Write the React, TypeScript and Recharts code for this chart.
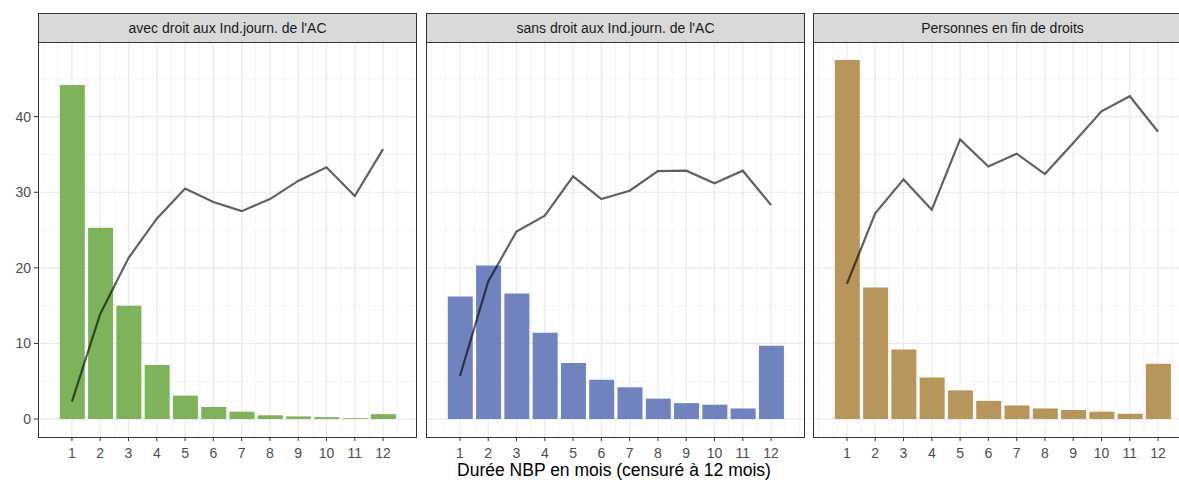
import React from 'react';
import {Bar, ComposedChart, Line, ReferenceLine, XAxis, YAxis} from 'recharts';

// months of unemployment spell (censored at 12)
const months = [1, 2, 3, 4, 5, 6, 7, 8, 9, 10, 11, 12];

// share of exits per month (bars) and cumulative line, per group
const withRightsShare = [44.2, 25.3, 15.0, 7.15, 3.1, 1.6, 0.97, 0.5, 0.35, 0.25, 0.1, 0.65];
const withRightsLine = [2.3, 13.9, 21.3, 26.5, 30.5, 28.7, 27.5, 29.1, 31.5, 33.3, 29.5, 35.7];

const noRightsShare = [16.2, 20.3, 16.6, 11.4, 7.4, 5.2, 4.2, 2.7, 2.1, 1.9, 1.4, 9.7];
const noRightsLine = [5.7, 18.2, 24.8, 26.9, 32.1, 29.1, 30.2, 32.8, 32.85, 31.2, 32.85, 28.3];

const endRightsShare = [47.5, 17.4, 9.2, 5.5, 3.8, 2.4, 1.8, 1.4, 1.2, 0.97, 0.7, 7.3];
const endRightsLine = [17.9, 27.2, 31.7, 27.7, 37.0, 33.4, 35.1, 32.4, 36.5, 40.7, 42.7, 38.0];

const panelTitles = [
    "avec droit aux Ind.journ. de l'AC",
    "sans droit aux Ind.journ. de l'AC",
    'Personnes en fin de droits',
];

const yTicks = [0, 10, 20, 30, 40];
const yMinor = [5, 15, 25, 35, 45];
const xMinor = [0, 0.5, 1.5, 2.5, 3.5, 4.5, 5.5, 6.5, 7.5, 8.5, 9.5, 10.5, 11.5, 12.5, 13];

const FONT = '"Liberation Sans", Arial, Helvetica, sans-serif';
const CHART_H = 482;
const PLOT_W = 379;
const PLOT_TOP = 42;
const PLOT_BOTTOM = 437;
const X_AXIS_H = 30;
const Y_AXIS_W = 38;
const Y_DOMAIN: [number, number] = [-2.375, 49.875];
const X_DOMAIN: [number, number] = [-0.2, 13.2];

const gridData = months.map(m => ({month: m, v: 0}));

// background layer: only the grid, so the bars sit on top of it
const GridLayer: React.FC<{width: number}> = ({width}) => (
    <ComposedChart
        width={width}
        height={PLOT_BOTTOM - PLOT_TOP}
        data={gridData}
        margin={{top: 0, right: 0, bottom: 0, left: 0}}
    >
        <XAxis hide dataKey="month" type="number" domain={X_DOMAIN} allowDataOverflow/>
        <YAxis hide type="number" domain={Y_DOMAIN} allowDataOverflow/>
        {yMinor.map(v => (
            <ReferenceLine key={'ym' + v} y={v} stroke="#F3F3F3" strokeWidth={0.8}/>
        ))}
        {xMinor.map(v => (
            <ReferenceLine key={'xm' + v} x={v} stroke="#F3F3F3" strokeWidth={0.8}/>
        ))}
        {yTicks.map(v => (
            <ReferenceLine key={'y' + v} y={v} stroke="#EAEAEA" strokeWidth={1.2}/>
        ))}
        {months.map(v => (
            <ReferenceLine key={'x' + v} x={v} stroke="#EAEAEA" strokeWidth={1.2}/>
        ))}
        <Line dataKey="v" stroke="none" dot={false} activeDot={false} isAnimationActive={false}/>
    </ComposedChart>
);

const Panel: React.FC<PanelProps> = ({title, share, cumul, color, left, showY}) => {
    const data = months.map((m, i) => ({month: m, share: share[i], cumul: cumul[i]}));
    const offset = showY ? Y_AXIS_W : 0;

    return (
        <>
            <div style={{position: 'absolute', left, top: PLOT_TOP}}>
                <GridLayer width={PLOT_W}/>
            </div>
            <div style={{position: 'absolute', left: left - offset, top: 0}}>
                <ComposedChart
                    width={PLOT_W + offset}
                    height={CHART_H}
                    data={data}
                    margin={{top: PLOT_TOP, right: 0, bottom: CHART_H - PLOT_BOTTOM - X_AXIS_H, left: 0}}
                >
                    <XAxis
                        dataKey="month"
                        type="number"
                        domain={X_DOMAIN}
                        ticks={months}
                        allowDataOverflow
                        interval={0}
                        height={X_AXIS_H}
                        axisLine={false}
                        tickSize={4}
                        tickMargin={7}
                        tickLine={{stroke: '#333333'}}
                        tick={{fill: '#4D4D4D', fontSize: 14, fontFamily: FONT}}
                    />
                    <YAxis
                        hide={!showY}
                        type="number"
                        domain={Y_DOMAIN}
                        ticks={yTicks}
                        allowDataOverflow
                        width={Y_AXIS_W}
                        axisLine={false}
                        tickSize={4}
                        tickMargin={3}
                        tickLine={{stroke: '#333333'}}
                        tick={{fill: '#4D4D4D', fontSize: 14, fontFamily: FONT}}
                    />
                    <Bar dataKey="share" fill={color} barSize={25} isAnimationActive={false}/>
                    <Line
                        dataKey="cumul"
                        type="linear"
                        stroke="#000000"
                        strokeOpacity={0.62}
                        strokeWidth={2.2}
                        dot={false}
                        activeDot={false}
                        isAnimationActive={false}
                    />
                </ComposedChart>
            </div>
            <div
                style={{
                    position: 'absolute',
                    left,
                    top: 13,
                    width: PLOT_W,
                    height: PLOT_TOP - 13 + 1,
                    boxSizing: 'border-box',
                    border: '1px solid #333333',
                    background: '#D9D9D9',
                    color: '#1A1A1A',
                    fontFamily: FONT,
                    fontSize: 14,
                    lineHeight: `${PLOT_TOP - 13 - 1}px`,
                    textAlign: 'center',
                }}
            >
                {title}
            </div>
            <div
                style={{
                    position: 'absolute',
                    left,
                    top: PLOT_TOP,
                    width: PLOT_W,
                    height: PLOT_BOTTOM - PLOT_TOP + 1,
                    boxSizing: 'border-box',
                    border: '1px solid #333333',
                    pointerEvents: 'none',
                }}
            />
        </>
    );
};

interface PanelProps {
    title: string;
    share: number[];
    cumul: number[];
    color: string;
    left: number;
    showY?: boolean;
}

export default function App() {
    return (
        <div
            style={{
                position: 'absolute',
                left: 0,
                top: 0,
                width: 1179,
                height: 482,
                overflow: 'hidden',
                background: '#FFFFFF',
            }}
        >
            <Panel title={panelTitles[0]} share={withRightsShare} cumul={withRightsLine} color="#7FB35B" left={38} showY/>
            <Panel title={panelTitles[1]} share={noRightsShare} cumul={noRightsLine} color="#7083BE" left={426}/>
            <Panel title={panelTitles[2]} share={endRightsShare} cumul={endRightsLine} color="#B8955B" left={813}/>
            <div
                style={{
                    position: 'absolute',
                    left: 314,
                    width: 600,
                    top: 461,
                    textAlign: 'center',
                    fontFamily: FONT,
                    fontSize: 17.5,
                    lineHeight: '18px',
                    color: '#000000',
                }}
            >
                Durée NBP en mois (censuré à 12 mois)
            </div>
        </div>
    );
}
